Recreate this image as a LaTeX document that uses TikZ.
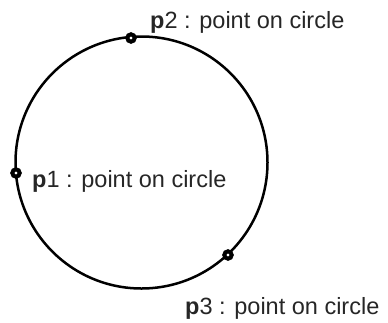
\documentclass[tikz,border=0pt]{standalone}
\usepackage{fontspec}
\setmainfont{Liberation Sans}
\begin{document}
\begin{tikzpicture}[x=1pt,y=-1pt,
  pt/.style={circle,draw=black,fill=white,line width=4pt,inner sep=0pt,minimum size=7.4pt},
  lbl/.style={anchor=base west,inner sep=0pt,font=\fontsize{23.5}{27}\selectfont,text=black!85}]
\useasboundingbox (0,0) rectangle (388,322);
\coordinate (c) at (141.5,162.5);
\draw[line width=2.5pt] (c) circle[radius=126];
\node[pt] (p1) at (16,173) {};
\node[pt] (p2) at (131,38) {};
\node[pt] (p3) at (228,255) {};
\node[lbl] (l1) at (32,187) {\textbf{p}1 : point on circle};
\node[lbl] (l2) at (150,28) {\textbf{p}2 : point on circle};
\node[lbl] (l3) at (185,314) {\textbf{p}3 : point on circle};
\end{tikzpicture}
\end{document}
